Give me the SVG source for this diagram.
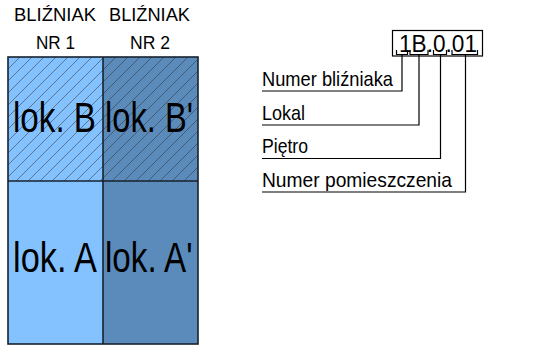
<svg xmlns="http://www.w3.org/2000/svg" width="541" height="350" viewBox="0 0 541 350">
  <style>
    .t { font-family: "Liberation Sans", Arial, sans-serif; fill: #000; }
    .hdr { font-size: 19px; }
    .big { font-size: 42px; }
    .lbl { font-size: 21px; }
    .code { font-size: 23px; }
    .cellL { fill: #84C2FF; }
    .cellR { fill: #5B8BBB; }
    .edge { fill: none; stroke: #17222e; stroke-width: 1.6; }
    .ln { fill: none; stroke: #000; stroke-width: 1.2; }
  </style>
  <defs>
    <pattern id="hatch" patternUnits="userSpaceOnUse" width="12" height="12" x="8" y="57">
      <path d="M0,12 L12,0 M-3,3 L3,-3 M9,15 L15,9" stroke="#333" stroke-width="0.55" fill="none"/>
    </pattern>
  </defs>
  <rect width="541" height="350" fill="#fff"/>

  <g id="headers">
    <text class="t hdr" x="14" y="20.5" textLength="82" lengthAdjust="spacingAndGlyphs">BLIŹNIAK</text>
    <text class="t hdr" x="109" y="20.5" textLength="81" lengthAdjust="spacingAndGlyphs">BLIŹNIAK</text>
    <text class="t hdr" x="36" y="49" textLength="39" lengthAdjust="spacingAndGlyphs">NR 1</text>
    <text class="t hdr" x="130" y="49" textLength="40" lengthAdjust="spacingAndGlyphs">NR 2</text>
  </g>

  <g id="lokB">
    <rect class="cellL" x="8" y="57" width="95" height="124"/>
    <rect x="8" y="57" width="95" height="124" fill="url(#hatch)"/>
    <text class="t big" x="13" y="131.5" textLength="83" lengthAdjust="spacingAndGlyphs">lok. B</text>
  </g>
  <g id="lokBp">
    <rect class="cellR" x="103" y="57" width="95" height="124"/>
    <rect x="103" y="57" width="95" height="124" fill="url(#hatch)"/>
    <text class="t big" x="105" y="131.5" textLength="88" lengthAdjust="spacingAndGlyphs">lok. B'</text>
  </g>
  <g id="lokA">
    <rect class="cellL" x="8" y="181" width="95" height="163"/>
    <text class="t big" x="13" y="271.5" textLength="84" lengthAdjust="spacingAndGlyphs">lok. A</text>
  </g>
  <g id="lokAp">
    <rect class="cellR" x="103" y="181" width="95" height="163"/>
    <text class="t big" x="105" y="271.5" textLength="87.5" lengthAdjust="spacingAndGlyphs">lok. A'</text>
  </g>
  <g id="outline">
    <rect class="edge" x="8" y="57" width="190" height="287"/>
    <line class="edge" x1="103" y1="57" x2="103" y2="344"/>
    <line class="edge" x1="8" y1="181" x2="198" y2="181"/>
  </g>

  <g id="code">
    <rect x="392.5" y="30.5" width="90" height="25.5" fill="#fff" stroke="#000" stroke-width="1.2"/>
    <text class="t code" x="399" y="52" textLength="78" lengthAdjust="spacingAndGlyphs">1B.0.01</text>
    <path class="ln" d="M396.5,50 V54.5 H407.5 V50 M410,50 V54.5 H428 V50 M433.5,50 V54.5 H446.5 V50 M452,50 V54.5 H477.5 V50"/>
  </g>

  <g id="labels">
    <text class="t lbl" x="262" y="86" textLength="131" lengthAdjust="spacingAndGlyphs">Numer bliźniaka</text>
    <text class="t lbl" x="262" y="120" textLength="43" lengthAdjust="spacingAndGlyphs">Lokal</text>
    <text class="t lbl" x="262" y="153" textLength="46" lengthAdjust="spacingAndGlyphs">Piętro</text>
    <text class="t lbl" x="262" y="186.5" textLength="190" lengthAdjust="spacingAndGlyphs">Numer pomieszczenia</text>
  </g>

  <g id="connectors">
    <path class="ln" d="M402,54.5 V91 H262"/>
    <path class="ln" d="M419,54.5 V125 H262"/>
    <path class="ln" d="M440.5,54.5 V158.5 H262"/>
    <path class="ln" d="M465.5,54.5 V192 H262"/>
  </g>
</svg>
